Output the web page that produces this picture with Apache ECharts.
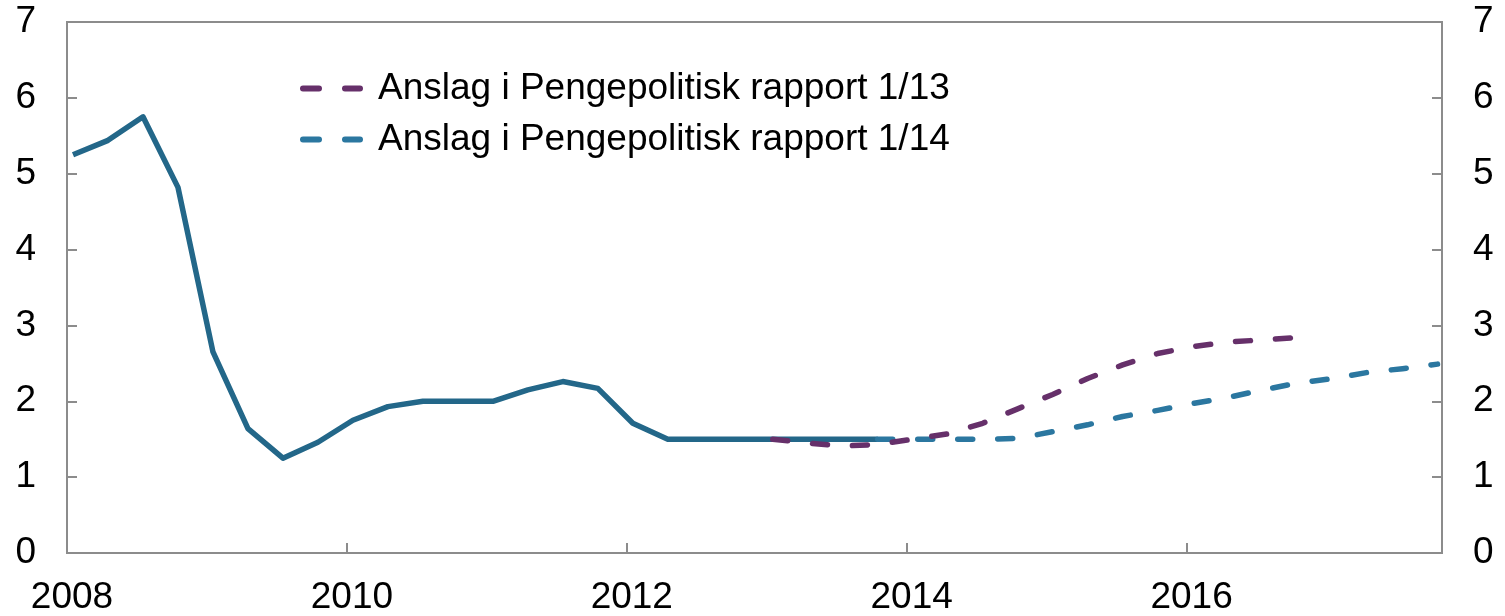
<!DOCTYPE html>
<html>
<head>
<meta charset="utf-8">
<script src="https://cdn.jsdelivr.net/npm/echarts@6/dist/echarts.min.js"></script>
<style>
  html, body { margin: 0; padding: 0; background: #fff; }
  #chart { width: 1505px; height: 616px; }
</style>
</head>
<body>
<div id="chart"></div>
<script>
// kvartaler 2008K1 - 2017K4
const quarters = []
for (let y = 2008; y <= 2017; y++) {
  for (let q = 1; q <= 4; q++) quarters.push(y + 'K' + q)
}
const yearTicks = [2008, 2010, 2012, 2014, 2016]

// styringsrente, 2008K1 - 2013K4
const policyRate = [5.25, 5.44, 5.75, 4.82, 2.65, 1.64, 1.25, 1.46,
  1.75, 1.93, 2.0, 2.0, 2.0, 2.15, 2.26, 2.17,
  1.71, 1.5, 1.5, 1.5, 1.5, 1.5, 1.5, 1.5]
// PPR 1/13, 2013K1 - 2016K4
const ppr113Start = '2013K1'
const ppr113 = [1.5, 1.45, 1.41, 1.43, 1.5, 1.57, 1.71, 1.9,
  2.09, 2.3, 2.48, 2.63, 2.72, 2.78, 2.81, 2.84]
// PPR 1/14, 2013K4 - 2017K4
const ppr114Start = '2013K4'
const ppr114 = [1.5, 1.5, 1.5, 1.5, 1.51, 1.6, 1.69, 1.8,
  1.88, 1.97, 2.05, 2.15, 2.24, 2.3, 2.38, 2.43, 2.49]

const names = ['Anslag i Pengepolitisk rapport 1/13', 'Anslag i Pengepolitisk rapport 1/14']

function toX(label) {
  const parts = label.split('K')
  return +parts[0] + (parts[1] - 1) / 4 + 0.043
}
function pairs(values, start) {
  const s = quarters.indexOf(start)
  return values.map((v, i) => [toX(quarters[s + i]), v])
}

const font = "'Liberation Sans', Arial, sans-serif"
const axisGray = '#8c8c8c'
const dashIcon = 'path://M3,0H19A3,3 0 0 1 19,6H3A3,3 0 0 1 3,0Z M45,0H60A3,3 0 0 1 60,6H45A3,3 0 0 1 45,0Z'

const chart = echarts.init(document.getElementById('chart'))

const yAxisBase = {
  type: 'value',
  min: 0,
  max: 7,
  interval: 1,
  splitLine: { show: false },
  axisLine: { show: true, lineStyle: { color: axisGray, width: 2 } },
  axisTick: { show: true, inside: true, length: 10, lineStyle: { color: axisGray, width: 2 } },
  axisLabel: { fontSize: 37, color: '#000', fontFamily: font, margin: 31 }
}

const option = {
  animation: false,
  backgroundColor: '#fff',
  grid: {
    left: 67,
    right: 63,
    top: 22,
    bottom: 63,
    show: true,
    borderColor: axisGray,
    borderWidth: 2
  },
  legend: {
    orient: 'vertical',
    left: 300,
    top: 70,
    padding: 0,
    itemGap: 14,
    itemWidth: 63,
    itemHeight: 6,
    icon: dashIcon,
    data: names,
    textStyle: { fontSize: 37, color: '#000', fontFamily: font, padding: [0, 0, 0, 10] }
  },
  xAxis: {
    type: 'value',
    min: 2008,
    max: 2017.825,
    interval: 2,
    splitLine: { show: false },
    axisLine: { show: true, lineStyle: { color: axisGray, width: 2 } },
    axisTick: { show: true, inside: true, length: 10, customValues: yearTicks, lineStyle: { color: axisGray, width: 2 } },
    axisLabel: {
      fontSize: 37,
      color: '#000',
      fontFamily: font,
      margin: 26,
      padding: [0, 0, 0, 10],
      customValues: yearTicks,
      formatter: v => String(v)
    }
  },
  yAxis: [
    Object.assign({}, yAxisBase, { position: 'left' }),
    Object.assign({}, yAxisBase, { position: 'right' })
  ],
  series: [
    {
      name: 'Styringsrente',
      type: 'line',
      showSymbol: false,
      data: pairs(policyRate, quarters[0]),
      lineStyle: { color: '#236789', width: 5.5, join: 'round' },
      itemStyle: { color: '#236789' }
    },
    {
      name: names[1],
      type: 'line',
      showSymbol: false,
      data: pairs(ppr114, ppr114Start),
      lineStyle: { color: '#2b77a0', width: 5.5, type: [15, 25], cap: 'round', join: 'round' },
      itemStyle: { color: '#2b77a0' }
    },
    {
      name: names[0],
      type: 'line',
      showSymbol: false,
      data: pairs(ppr113, ppr113Start),
      lineStyle: { color: '#66306a', width: 5.5, type: [15, 25], cap: 'round', join: 'round' },
      itemStyle: { color: '#66306a' }
    }
  ]
}

chart.setOption(option)
</script>
</body>
</html>
